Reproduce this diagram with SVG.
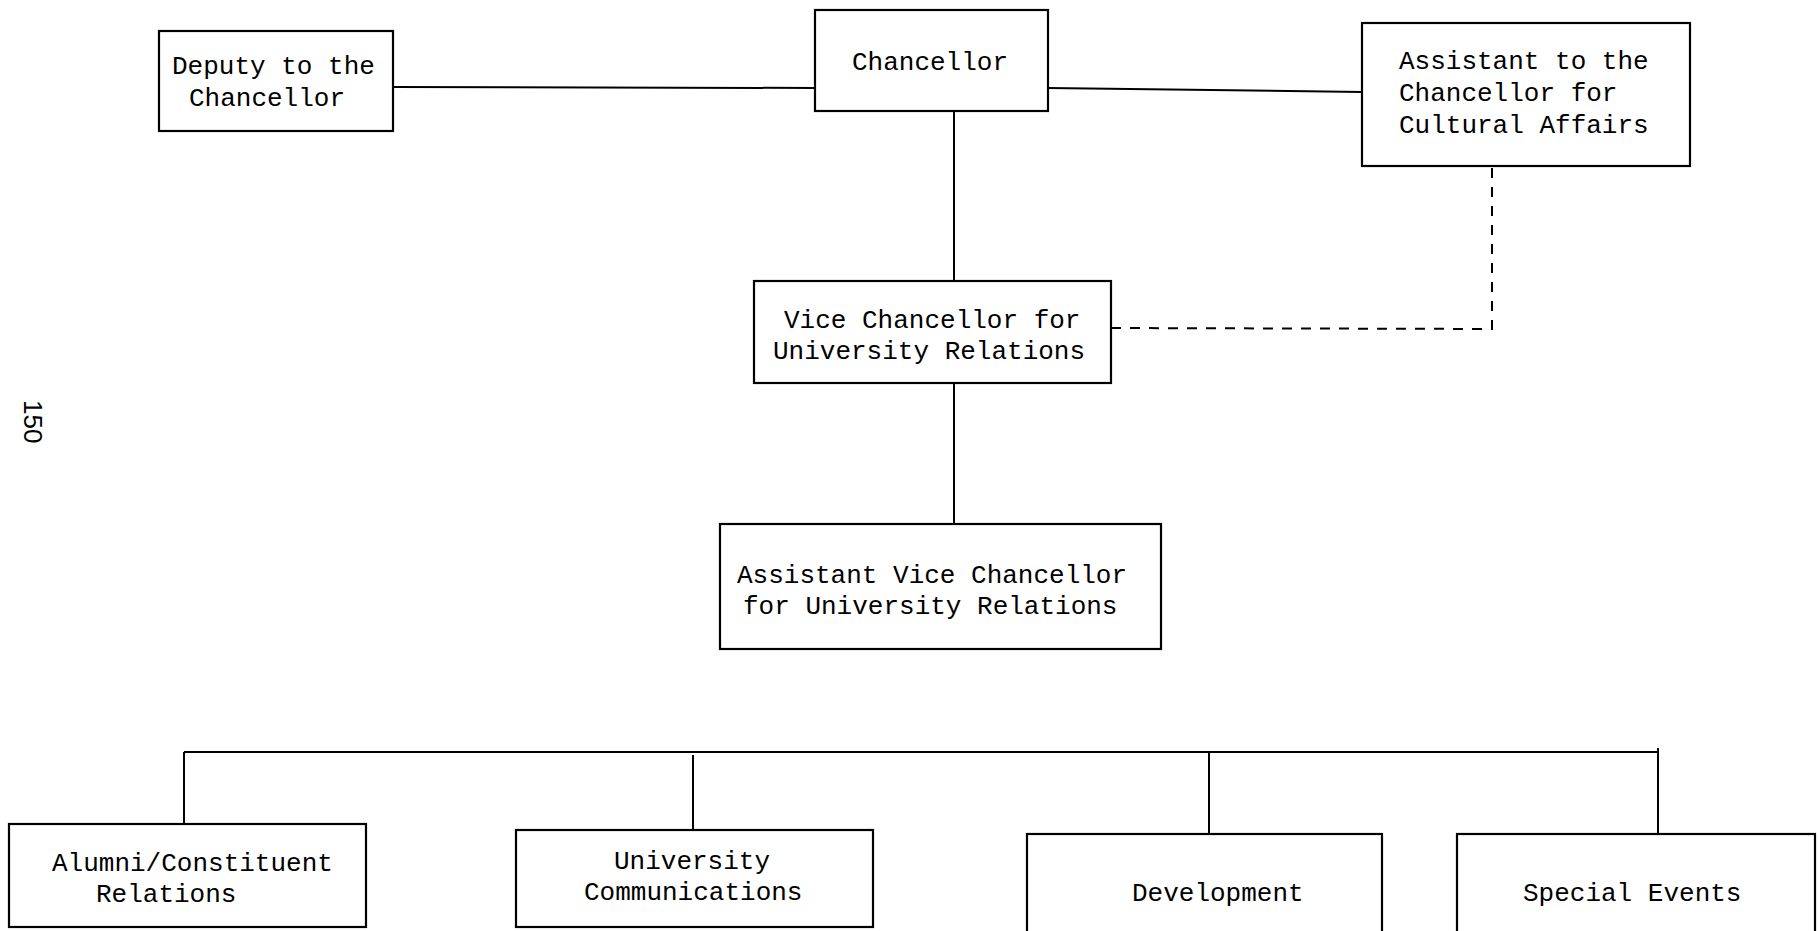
<svg xmlns="http://www.w3.org/2000/svg" width="1818" height="931" viewBox="0 0 1818 931">
  <style>
    .box { fill: #ffffff; stroke: #000000; stroke-width: 2.2; }
    .lbl { font-family: "Liberation Mono", "DejaVu Sans Mono", monospace; font-size: 26px; fill: #000000; }
    .wire { fill: none; stroke: #000000; stroke-width: 2; }
    .dash { fill: none; stroke: #000000; stroke-width: 2; stroke-dasharray: 10 9; }
    .pg { font-family: "Liberation Sans", Arial, sans-serif; font-size: 26px; fill: #000000; }
  </style>
  <rect width="1818" height="931" fill="#ffffff"/>

  <!-- connectors -->
  <g id="connectors">
    <path class="wire" d="M393 87 L815 88"/>
    <path class="wire" d="M1048 88 L1362 92"/>
    <path class="wire" d="M954 111 L954 281"/>
    <path class="dash" d="M1111 328 L1492 329 L1492 168"/>
    <path class="wire" d="M954 383 L954 524"/>
    <path class="wire" d="M184 752 L1658 752"/>
    <path class="wire" d="M184 752 L184 824"/>
    <path class="wire" d="M693 755 L693 830"/>
    <path class="wire" d="M1209 752 L1209 834"/>
    <path class="wire" d="M1658 748 L1658 834"/>
  </g>

  <g id="deputy">
    <rect class="box" x="159" y="31" width="234" height="100"/>
    <text class="lbl" x="172" y="74">Deputy to the</text>
    <text class="lbl" x="189" y="106">Chancellor</text>
  </g>

  <g id="chancellor">
    <rect class="box" x="815" y="10" width="233" height="101"/>
    <text class="lbl" x="852" y="70">Chancellor</text>
  </g>

  <g id="cultural-affairs">
    <rect class="box" x="1362" y="23" width="328" height="143"/>
    <text class="lbl" x="1399" y="69">Assistant to the</text>
    <text class="lbl" x="1399" y="101">Chancellor for</text>
    <text class="lbl" x="1399" y="133">Cultural Affairs</text>
  </g>

  <g id="vice-chancellor">
    <rect class="box" x="754" y="281" width="357" height="102"/>
    <text class="lbl" x="784" y="328">Vice Chancellor for</text>
    <text class="lbl" x="773" y="359">University Relations</text>
  </g>

  <g id="assistant-vice-chancellor">
    <rect class="box" x="720" y="524" width="441" height="125"/>
    <text class="lbl" x="737" y="583">Assistant Vice Chancellor</text>
    <text class="lbl" x="743" y="614">for University Relations</text>
  </g>

  <g id="alumni">
    <rect class="box" x="9" y="824" width="357" height="103"/>
    <text class="lbl" x="52" y="871">Alumni/Constituent</text>
    <text class="lbl" x="96" y="902">Relations</text>
  </g>

  <g id="communications">
    <rect class="box" x="516" y="830" width="357" height="97"/>
    <text class="lbl" x="614" y="869">University</text>
    <text class="lbl" x="584" y="900">Communications</text>
  </g>

  <g id="development">
    <rect class="box" x="1027" y="834" width="355" height="110"/>
    <text class="lbl" x="1132" y="901">Development</text>
  </g>

  <g id="special-events">
    <rect class="box" x="1457" y="834" width="358" height="110"/>
    <text class="lbl" x="1523" y="901">Special Events</text>
  </g>

  <!-- page number -->
  <text class="pg" transform="translate(24,400) rotate(90)">150</text>
</svg>
